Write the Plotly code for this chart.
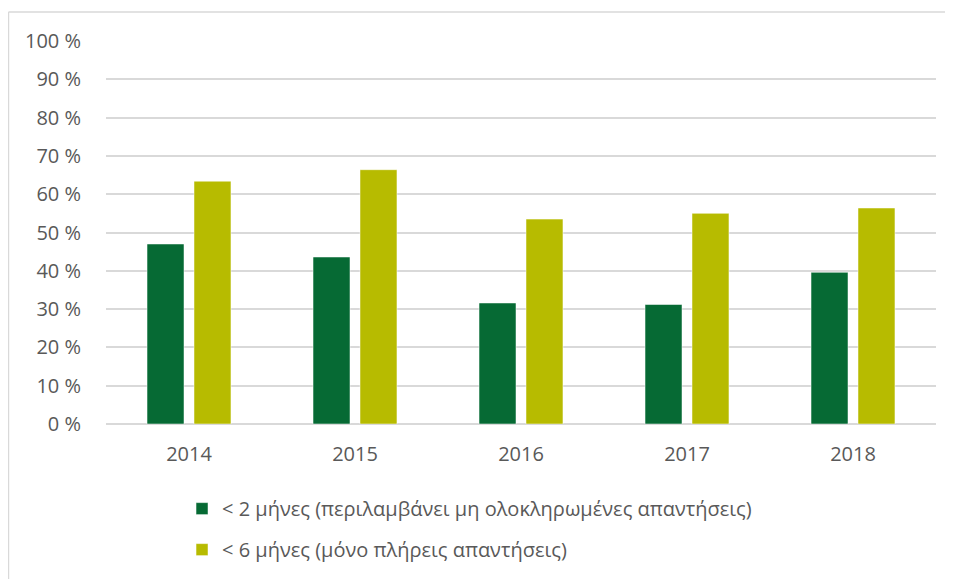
import plotly.graph_objects as go

years = ["2014", "2015", "2016", "2017", "2018"]
under_2_months = [47.0, 43.6, 31.6, 31.2, 39.6]
under_6_months = [63.4, 66.4, 53.5, 55.0, 56.4]
names = [
    "< 2 μήνες (περιλαμβάνει μη ολοκληρωμένες απαντήσεις)",
    "< 6 μήνες (μόνο πλήρεις απαντήσεις)",
]

DARK_GREEN = "#066a34"
OLIVE = "#b7bb00"
TEXT_GREY = "#595959"
GRID_GREY = "#d9d9d9"

fig = go.Figure()
fig.add_trace(go.Bar(x=years, y=under_2_months, name=names[0], legendgroup="a",
                     marker_color=DARK_GREEN, marker_line_color="white", marker_line_width=0.5))
fig.add_trace(go.Bar(x=years, y=under_6_months, name=names[1], legendgroup="b",
                     marker_color=OLIVE, marker_line_color="white", marker_line_width=0.5))

# outer frame of the exported chart: only top and left edges are visible
frame = dict(color=GRID_GREY, width=1.5)
fig.add_shape(type="line", xref="paper", yref="paper",
              x0=-0.1175, y0=1.0757, x1=1.045, y1=1.0757, line=frame, layer="below")
fig.add_shape(type="line", xref="paper", yref="paper",
              x0=-0.1175, y0=1.0757, x1=-0.1175, y1=-0.5, line=frame, layer="below")

fig.update_layout(
    width=970, height=620,
    barmode="group", bargap=0.434, bargroupgap=0.213,
    plot_bgcolor="white", paper_bgcolor="white",
    font=dict(family="Open Sans", size=20, color=TEXT_GREY),
    margin=dict(l=98, r=42, t=33, b=204),
    xaxis=dict(showgrid=False, showline=False, ticks="", ticklabelstandoff=16),
    yaxis=dict(range=[0, 100], dtick=10, ticksuffix=" %", showgrid=True,
               gridcolor=GRID_GREY, gridwidth=1.5, zeroline=True,
               zerolinecolor=GRID_GREY, zerolinewidth=1.5, ticklabelstandoff=24),
    legend=dict(x=0.0916, xanchor="left", y=-0.170, yanchor="top",
                orientation="v", tracegroupgap=12, font=dict(size=20),
                bgcolor="rgba(0,0,0,0)"),
    showlegend=True,
)

# the figure is larger than the window; hide scrollbars so the frame runs off the edge
fig.write_html("out.html", post_script="document.documentElement.style.overflow='hidden';"
                                       "document.body.style.overflow='hidden';")
